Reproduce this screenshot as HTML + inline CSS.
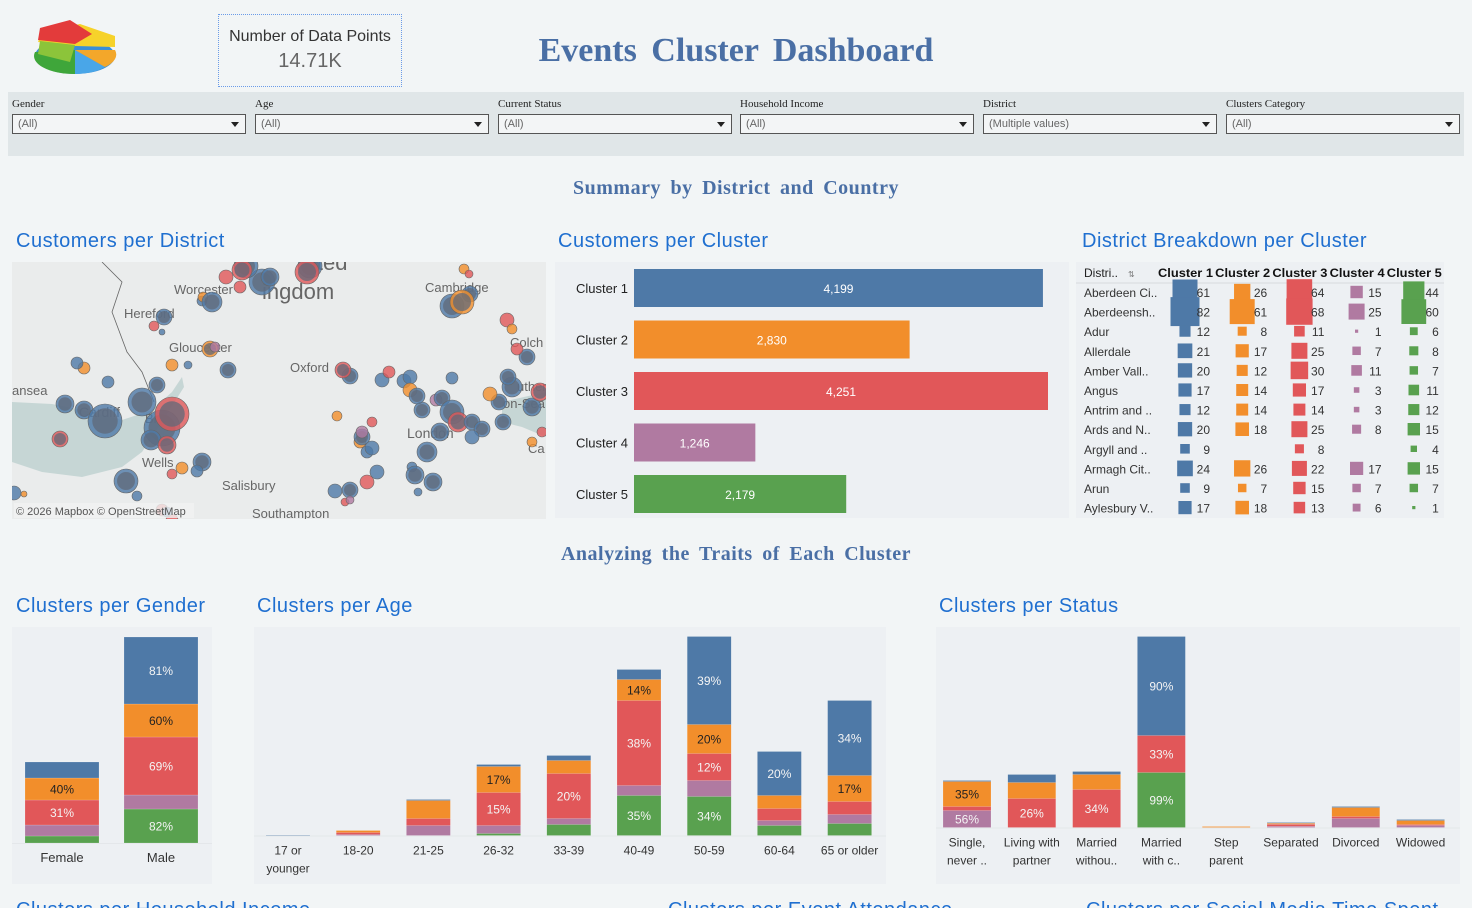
<!DOCTYPE html>
<html style="height:908px;overflow:hidden"><head><meta charset="utf-8">
<style>
*{margin:0;padding:0;box-sizing:border-box}
html{width:1472px;height:908px;overflow:hidden}
body{width:1472px;height:908px;background:#f2f5f6;position:relative;overflow:hidden;font-family:"Liberation Sans",sans-serif;color:#333}
.abs{position:absolute}
.sec{font-family:"Liberation Serif",serif;font-weight:bold;color:#4a6fa5;font-size:20px;letter-spacing:0.5px;word-spacing:4px}
.ttl{font-size:20px;color:#1f6fd0;font-weight:normal;letter-spacing:0.5px}
.panel{background:#edf0f3}
.flab{font-family:"Liberation Serif",serif;font-size:11px;color:#222}
.dd{height:20px;width:234px;border:1px solid #555;background:#f3f5f6;font-size:11px;color:#666;padding:3px 5px;position:absolute}
.dd::after{content:"";position:absolute;right:6px;top:7px;border-left:4px solid transparent;border-right:4px solid transparent;border-top:5px solid #222}
svg text{font-family:"Liberation Sans",sans-serif}
</style></head><body>

<svg class="abs" style="left:30px;top:14px" width="90" height="66" viewBox="0 0 90 66">
 <ellipse cx="45" cy="42" rx="40" ry="18" fill="#3a8fd6"/>
 <path d="M45 36 L5 38 A40 18 0 0 0 45 60 Z" fill="#3fa63a"/>
 <path d="M45 36 L45 60 A40 18 0 0 0 75 53 Z" fill="#49a6e8"/>
 <path d="M45 36 L85 36 A40 18 0 0 1 75 53 Z" fill="#f3a72a"/>
 <path d="M45 32 L8 28 L12 18 L50 10 L85 22 L85 33 Z" fill="#f6d22a"/>
 <path d="M45 30 L8 26 L10 14 L40 6 L62 20 Z" fill="#e33b3b"/>
 <path d="M10 27 L45 31 L40 48 L8 40 Z" fill="#8cc43a"/>
</svg>

<div class="abs" style="left:218px;top:14px;width:184px;height:73px;border:1px dotted #6b9be8;text-align:center">
 <div style="font-size:16px;color:#333;margin-top:13px">Number of Data Points</div>
 <div style="font-size:20px;color:#666;margin-top:4px">14.71K</div>
</div>

<div class="abs" style="left:436px;top:32px;width:600px;text-align:center;font-family:'Liberation Serif',serif;font-weight:bold;font-size:34px;color:#4a6fa5;word-spacing:6px">Events Cluster Dashboard</div>

<div class="abs" style="left:8px;top:92px;width:1456px;height:64px;background:#e0e6e8">
 <div class="abs flab" style="left:4px;top:6px">Gender</div>
 <div class="dd" style="left:4px;top:22px">(All)</div>
 <div class="abs flab" style="left:247px;top:6px">Age</div>
 <div class="dd" style="left:247px;top:22px">(All)</div>
 <div class="abs flab" style="left:490px;top:6px">Current Status</div>
 <div class="dd" style="left:490px;top:22px">(All)</div>
 <div class="abs flab" style="left:732px;top:6px">Household Income</div>
 <div class="dd" style="left:732px;top:22px">(All)</div>
 <div class="abs flab" style="left:975px;top:6px">District</div>
 <div class="dd" style="left:975px;top:22px">(Multiple values)</div>
 <div class="abs flab" style="left:1218px;top:6px">Clusters Category</div>
 <div class="dd" style="left:1218px;top:22px">(All)</div>
</div>

<div class="abs sec" style="left:436px;top:177px;width:600px;text-align:center">Summary by District and Country</div>
<div class="abs ttl" style="left:16px;top:230px">Customers per District</div>
<div class="abs ttl" style="left:558px;top:230px">Customers per Cluster</div>
<div class="abs ttl" style="left:1082px;top:230px">District Breakdown per Cluster</div>

<svg class="abs" id="map" style="left:12px;top:262px" width="534" height="257"></svg>
<svg class="abs panel" id="clus" style="left:555px;top:262px" width="514" height="256"></svg>
<svg class="abs panel" id="tab" style="left:1076px;top:262px" width="368" height="256"></svg>

<div class="abs sec" style="left:436px;top:543px;width:600px;text-align:center">Analyzing the Traits of Each Cluster</div>
<div class="abs ttl" style="left:16px;top:595px">Clusters per Gender</div>
<div class="abs ttl" style="left:257px;top:595px">Clusters per Age</div>
<div class="abs ttl" style="left:939px;top:595px">Clusters per Status</div>

<svg class="abs panel" id="gen" style="left:12px;top:627px" width="200" height="257"></svg>
<svg class="abs panel" id="age" style="left:254px;top:627px" width="632" height="257"></svg>
<svg class="abs panel" id="sta" style="left:936px;top:627px" width="524" height="257"></svg>

<div class="abs ttl" style="left:16px;top:899px;height:9px;overflow:hidden">Clusters per Household Income</div>
<div class="abs ttl" style="left:668px;top:899px;height:9px;overflow:hidden">Clusters per Event Attendance</div>
<div class="abs ttl" style="left:1086px;top:899px;height:9px;overflow:hidden">Clusters per Social Media Time Spent</div>

<script>
const COLORS=["#4e79a7","#f28e2b","#e15759","#b07aa1","#59a14f"];
const NS="http://www.w3.org/2000/svg";
function mk(p,t,a,txt){const e=document.createElementNS(NS,t);for(const k in a)e.setAttribute(k,a[k]);if(txt!==undefined)e.textContent=txt;p.appendChild(e);return e;}

// ---- Cluster bar data
const clusterNames=["Cluster 1","Cluster 2","Cluster 3","Cluster 4","Cluster 5"];
const clusterCounts=[4199,2830,4251,1246,2179];

// ---- Table data
const districts=["Aberdeen Ci..","Aberdeensh..","Adur","Allerdale","Amber Vall..","Angus","Antrim and ..","Ards and N..","Argyll and ..","Armagh Cit..","Arun","Aylesbury V.."];
const c1=[61,82,12,21,20,17,12,20,9,24,9,17];
const c2=[26,61,8,17,12,14,14,18,0,26,7,18];
const c3=[64,68,11,25,30,17,14,25,8,22,15,13];
const c4=[15,25,1,7,11,3,3,8,0,17,7,6];
const c5=[44,60,6,8,7,11,12,15,4,15,7,1];

// ---- Gender data
const genders=["Female","Male"];
const genBlue=[16,67],genOrange=[22,33],genRed=[25,58],genPurple=[11,14],genGreen=[7,34];
const genLabels=[["","40%","31%","",""],["81%","60%","69%","","82%"]];

// ---- Age data
const ages=["17 or|younger","18-20","21-25","26-32","33-39","40-49","50-59","60-64","65 or older"];
const ageBlue=[0.5,0,1,2,5,10,88,44,75];
const ageOrange=[0,2,18,26,13,21,29,13,26];
const ageRed=[0,2,7,33,45,85,27,12,13];
const agePurple=[0,1,10,8,6,10,16,5,9];
const ageGreen=[0,0,0,2,11,40,39,10,12];
const ageLabels=[["","","","",""],["","","","",""],["","","","",""],["","17%","15%","",""],["","","20%","",""],["","14%","38%","","35%"],["39%","20%","12%","","34%"],["20%","","","",""],["34%","17%","","",""]];

// ---- Status data
const statuses=["Single,|never ..","Living with|partner","Married|withou..","Married|with c..","Step|parent","Separated","Divorced","Widowed"];
const stBlue=[1,8,3,99,0,0.7,1,1];
const stOrange=[25,16,15,0,1,1,9,4];
const stRed=[4,29,38,37,0,2,2,1];
const stPurple=[17,0,0,0,0,1.3,9,2];
const stGreen=[0,0,0,55,0,0,0,0];
const stLabels=[["","35%","","56%",""],["","","26%","",""],["","","34%","",""],["90%","","33%","","99%"],["","","","",""],["","","","",""],["","","","",""],["","","","",""]];

// ---- Map circles (x,y,r,colorIndex)
const mapDots=[[53,142,9,0],[72,148,9,0],[93,159,17,0],[130,140,14,0],[150,166,18,0],[160,152,17,2],[114,219,12,0],[139,178,10,0],[155,183,9,2],[96,120,6,0],[145,123,8,0],[190,200,9,0],[48,177,8,2],[72,106,6,1],[65,101,6,0],[150,248,6,2],[176,103,4,0],[190,39,5,0],[191,35,5,1],[142,64,5,2],[150,70,3,0],[160,103,6,1],[152,55,8,0],[200,40,10,0],[250,20,13,0],[258,15,9,0],[214,15,7,2],[198,87,8,1],[203,85,5,3],[216,108,8,0],[234,4,12,0],[230,8,10,2],[228,25,6,2],[298,4,12,0],[295,10,12,2],[338,114,8,0],[331,108,8,2],[370,118,7,0],[377,110,6,2],[392,119,7,0],[398,115,7,0],[410,148,8,0],[398,128,7,1],[405,134,8,0],[424,138,6,3],[440,116,6,0],[430,136,8,0],[440,150,12,0],[446,160,10,2],[428,170,9,0],[460,160,8,0],[470,167,8,0],[460,175,7,0],[415,190,10,0],[500,125,10,0],[487,140,8,0],[491,160,8,0],[520,145,9,0],[528,130,9,2],[515,95,8,0],[505,87,6,2],[440,44,12,0],[458,32,8,0],[450,40,12,1],[495,58,7,2],[500,67,5,1],[496,115,8,0],[478,132,7,1],[348,180,6,1],[355,190,6,0],[350,175,8,0],[365,210,7,0],[355,220,7,2],[338,228,8,0],[323,229,7,0],[333,240,4,2],[360,186,7,0],[400,205,5,0],[403,213,9,0],[421,220,9,0],[406,230,4,0],[452,7,5,1],[457,12,4,2],[170,206,6,1],[185,209,6,0],[160,212,5,2],[125,234,5,0],[160,258,6,2],[155,250,5,0],[2,231,7,0],[12,232,3,1],[530,170,5,2],[350,170,6,3],[520,180,5,1],[338,238,4,3],[325,154,5,1],[360,160,5,2]];

// ---- Map
(function(){
 const s=document.getElementById('map');
 mk(s,'rect',{x:0,y:0,width:534,height:257,fill:'#eaecec'});
 mk(s,'path',{d:'M0 140 L40 142 L80 150 L110 158 L140 148 L160 130 L170 115 L172 125 L150 160 L130 190 L110 205 L70 215 L30 210 L0 200 Z',fill:'#c6d6d5'});
 mk(s,'path',{d:'M490 140 L534 130 L534 175 L510 165 L490 160 Z',fill:'#c6d6d5'});
 mk(s,'path',{d:'M90 0 L110 20 L100 50 L115 90 L130 110 L142 140',fill:'none',stroke:'#666','stroke-width':0.8});
 const labs=[["Worcester",162,32,13],["Hereford",112,56,13],["Gloucester",157,90,13],["Oxford",278,110,13],["Cambridge",413,30,13],["ansea",0,133,13],["Cardiff",67,155,14],["Bri",133,161,13],["Wells",130,205,13],["Salisbury",210,228,13],["Southampton",240,256,13],["London",395,176,14],["on-Sea",491,146,13],["Colch",498,85,13],["uthen",505,129,13],["Ca",516,191,13],["ingdom",250,37,22],["ited",300,8,22]];
 labs.forEach(l=>{const t=mk(s,'text',{x:l[1],y:l[2],'font-size':l[3],fill:'#666'},l[0]);

});
 mapDots.forEach(d=>{const c=mk(s,'circle',{cx:d[0],cy:d[1],r:d[2],fill:COLORS[d[3]],'fill-opacity':0.8,stroke:'#666','stroke-width':0.6});


 if(d[2]>7){const o=mk(s,'circle',{cx:d[0],cy:d[1],r:d[2]*0.75,fill:'#606a7a','fill-opacity':0.75});
}});
 mk(s,'rect',{x:2,y:241,width:180,height:15,fill:'#f1f2f2','fill-opacity':0.8});
 const a=mk(s,'text',{x:4,y:253,'font-size':11,fill:'#555'},'© 2026 Mapbox  © OpenStreetMap');
 
 
})();

// ---- Cluster bars
(function(){
 const s=document.getElementById('clus');
 const x0=79, maxW=414, maxV=4251;
 const xs=v=>v/maxV*maxW;
 const yc=i=>26+i*51.5;
 clusterCounts.forEach((v,i)=>{
  const r=mk(s,'rect',{x:x0,y:yc(i)-19,width:xs(v),height:38,fill:COLORS[i]});
  
  
  const l=mk(s,'text',{x:x0-6,y:yc(i)+5,'font-size':13,fill:'#222','text-anchor':'end'},clusterNames[i]);
  
  
  const t=mk(s,'text',{x:x0+xs(v)/2,y:yc(i)+5,'font-size':12,fill:'#fff','text-anchor':'middle'},v.toLocaleString('en-US'));
  
  
 });
})();

// ---- Table
(function(){
 const s=document.getElementById('tab');
 const cols=[c1,c2,c3,c4,c5];
 const h=mk(s,'text',{x:8,y:15,'font-size':12,fill:'#222'},'Distri..');
 
 
 mk(s,'text',{x:52,y:15,'font-size':8,fill:'#777'},'⇅');
 clusterNames.forEach((n,j)=>{const t=mk(s,'text',{x:82+j*57.2,y:15,'font-size':12,'font-weight':'bold',fill:'#111',textLength:55,lengthAdjust:'spacingAndGlyphs'},n);

});
 mk(s,'line',{x1:0,y1:21,x2:368,y2:21,stroke:'#d6dadd'});
 districts.forEach((d,i)=>{
  const y=30+i*19.6;
  const t=mk(s,'text',{x:8,y:y+5,'font-size':12,fill:'#333'},d);
  
  
  cols.forEach((col,j)=>{
   const v=col[i]; if(!v) return;
   const cx=109+j*57.2, sd=3.2*Math.sqrt(v);
   const r=mk(s,'rect',{x:cx-sd/2,y:y-sd/2,width:sd,height:sd,fill:COLORS[j]});
   
   
   const n=mk(s,'text',{x:134+j*57.2,y:y+5,'font-size':12,fill:'#333','text-anchor':'end'},v);
   
   
  });
 });
})();

// ---- Stacked bar helper
function stacked(id,cats,series,labels,base,scale,xc,bw,fs){
 const s=document.getElementById(id);
 mk(s,'line',{x1:0,y1:base+0.5,x2:s.getAttribute('width'),y2:base+0.5,stroke:'#e4e7ea'});
 const order=[4,3,2,1,0];
 cats.forEach((c,i)=>{
  let y=base;
  order.forEach(k=>{
   const v=series[k][i]; if(!v) return;
   const hh=v*scale; y-=hh;
   const r=mk(s,'rect',{x:xc(i)-bw/2,y:y,width:bw,height:hh,fill:COLORS[k],stroke:'#fff','stroke-width':0.3,'stroke-opacity':0.5});
   
   
   const lb=labels[i][k];
   if(lb){const t=mk(s,'text',{x:xc(i),y:y+hh/2+4.5,'font-size':12,fill:k==1?'#222':'#f4f4f4','text-anchor':'middle'},lb);
   
   }
  });
  c.split('|').forEach((ln,li)=>{const t=mk(s,'text',{x:xc(i),y:base+19+li*18,'font-size':fs,fill:'#333','text-anchor':'middle'},ln);
  
  });
 });
}
stacked('gen',genders,[genBlue,genOrange,genRed,genPurple,genGreen],genLabels,216,1,i=>50+i*99,74,13);
stacked('age',ages,[ageBlue,ageOrange,ageRed,agePurple,ageGreen],ageLabels,208.5,1,i=>34+i*70.2,44,12);
stacked('sta',statuses,[stBlue,stOrange,stRed,stPurple,stGreen],stLabels,200.5,1,i=>31+i*64.8,48,12);
</script>
</body></html>
